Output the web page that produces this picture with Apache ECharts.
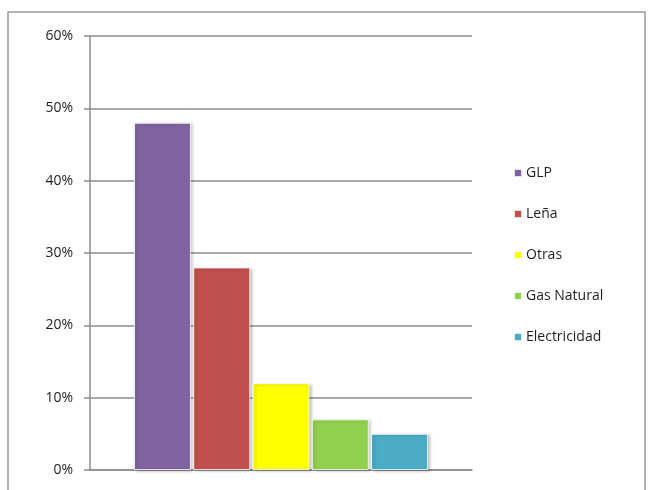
<!DOCTYPE html>
<html>
<head>
<meta charset="utf-8">
<script src="https://cdn.jsdelivr.net/npm/echarts@6/dist/echarts.min.js"></script>
<style>
  html, body { margin: 0; padding: 0; background: #fff; }
  #chart { width: 653px; height: 490px; }
</style>
</head>
<body>
<div id="chart"></div>
<script>
// Fuel share by type
const fuelNames = ['GLP', 'Leña', 'Otras', 'Gas Natural', 'Electricidad'];
const fuelShares = [0.48, 0.28, 0.12, 0.07, 0.05];
const fuelColors = ['#8064A2', '#C0504D', '#FFFF00', '#92D050', '#4BACC6'];
const yTicks = { min: 0, max: 0.6, step: 0.1 };

const FONT = '"Open Sans", "Liberation Sans", sans-serif';

const chart = echarts.init(document.getElementById('chart'), null, { renderer: 'canvas' });

const series = fuelNames.map((name, i) => ({
  name: name,
  type: 'bar',
  data: [fuelShares[i]],
  barWidth: 57,
  barGap: '4%',
  itemStyle: {
    color: fuelColors[i],
    borderColor: 'rgba(255,255,255,0.8)',
    borderWidth: 1,
    shadowColor: 'rgba(0,0,0,0.25)',
    shadowBlur: 3,
    shadowOffsetX: 2,
    shadowOffsetY: 1
  },
  emphasis: { disabled: true }
}));

chart.setOption({
  animation: false,
  backgroundColor: '#fff',
  grid: { left: 90, right: 181, top: 36, bottom: 20, containLabel: false },
  xAxis: {
    type: 'category',
    data: [''],
    axisLine: { show: true, lineStyle: { color: '#8c8c8c', width: 1.5 } },
    axisTick: { show: false },
    axisLabel: { show: false },
    splitLine: { show: false }
  },
  yAxis: {
    type: 'value',
    min: yTicks.min,
    max: yTicks.max,
    interval: yTicks.step,
    axisLine: { show: true, lineStyle: { color: '#8c8c8c', width: 1.5 } },
    axisTick: { show: true, length: 6, lineStyle: { color: '#8c8c8c', width: 1.5 } },
    axisLabel: {
      margin: 17,
      color: '#1e1e1e',
      fontFamily: FONT,
      fontSize: 14,
      formatter: v => Math.round(v * 100) + '%'
    },
    splitLine: { show: true, lineStyle: { color: '#8c8c8c', width: 1.5 } }
  },
  legend: {
    orient: 'vertical',
    left: 508,
    top: 160,
    icon: 'rect',
    itemWidth: 8,
    itemHeight: 8,
    itemGap: 25,
    data: fuelNames,
    textStyle: { color: '#1e1e1e', fontFamily: FONT, fontSize: 14, lineHeight: 16, padding: [0, 0, 0, -1] },
    selectedMode: false
  },
  graphic: [{
    type: 'rect',
    shape: { x: 8, y: 12, width: 637, height: 500 },
    style: { fill: 'none', stroke: '#9a9a9a', lineWidth: 1.5 },
    silent: true
  }],
  series: series
});
</script>
</body>
</html>
